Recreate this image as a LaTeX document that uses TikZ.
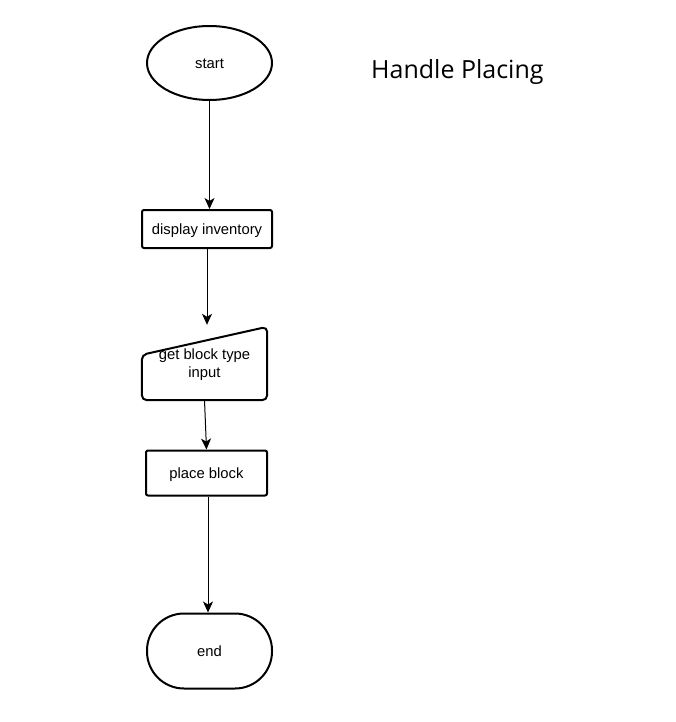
\documentclass[tikz,border=0pt]{standalone}
\usepackage{fontspec}
\setmainfont{Liberation Sans}
\newfontfamily\titlefont{Open Sans}
\usetikzlibrary{arrows.meta,calc,shapes.geometric}
\begin{document}
\begin{tikzpicture}[x=1pt,y=-1pt,
  every node/.style={font=\fontsize{14.8}{18}\selectfont, inner sep=0pt},
  oneline/.style={text height=11pt, text depth=0pt},
  boxline/.style={draw=black, line width=2pt},
  procbox/.style={boxline, rectangle, rounded corners=2pt, oneline},
  conn/.style={draw=black, line width=1pt, -{Stealth[length=11pt,width=10pt,inset=3pt]}}
]
\useasboundingbox (0,0) rectangle (676,722);
\node[boxline, ellipse, oneline, minimum width=125pt, minimum height=74pt] (start) at (209.5,63) {start};
\node[procbox, minimum width=130pt, minimum height=38pt] (disp) at (207,229) {display inventory};
\node[minimum width=125pt, minimum height=73pt, align=center, text height=29pt, text depth=2pt] (inp) at (204.5,363.5) {get block type\\input};
\draw[boxline, rounded corners=5pt, line join=round] (inp.south west) -- ($(inp.north west)+(0,28)$) -- (inp.north east) -- (inp.south east) -- cycle;
\node[procbox, minimum width=121pt, minimum height=45pt] (place) at (206.5,473) {place block};
\node[boxline, rectangle, oneline, rounded corners=37pt, minimum width=125pt, minimum height=75pt] (end) at (209.5,651) {end};
\node[font=\titlefont\fontsize{25}{30}\selectfont, anchor=west] (title) at (371,72) {Handle Placing};
\draw[conn] (start.south) -- (start.south |- disp.north);
\draw[conn] (disp.south) -- ($(disp.south |- inp.north)+(0,-2)$);
\draw[conn] (inp.south) -- (place.north);
\draw[conn] ([xshift=1.5pt]place.south) -- ([xshift=1.5pt]place.south |- end.north);
\end{tikzpicture}
\end{document}
